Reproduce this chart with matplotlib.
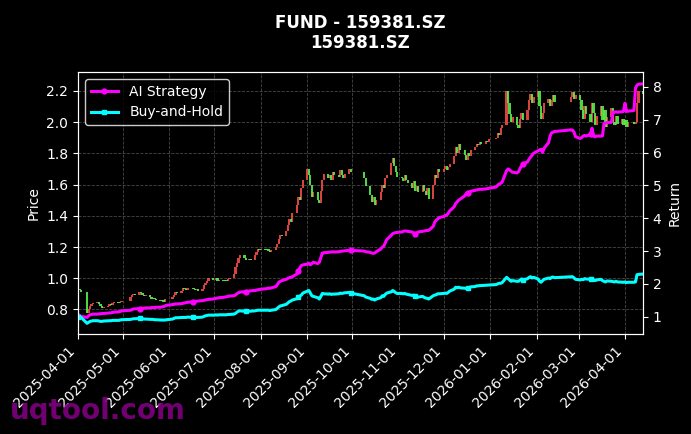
import matplotlib

matplotlib.use("Agg")
import matplotlib.dates as mdates
import matplotlib.pyplot as plt
import numpy as np
import pandas as pd

TICKER = "159381.SZ"
START, END = "2025-04-01", "2026-04-13"

# SSE/SZSE closures inside the window
HOLIDAYS = [
    "2025-04-04", "2025-05-01", "2025-05-02", "2025-05-05", "2025-06-02",
    "2025-10-01", "2025-10-02", "2025-10-03", "2025-10-06", "2025-10-07",
    "2025-10-08", "2026-01-01", "2026-01-02", "2026-02-16", "2026-02-17",
    "2026-02-18", "2026-02-19", "2026-02-20", "2026-02-23", "2026-04-06",
]

FIRST_OPEN = 0.94

# daily close, one line per month
CLOSE = [
    0.93, 0.925, 0.915, 0.78, 0.80, 0.82, 0.835, 0.84, 0.845, 0.835, 0.82,
    0.81, 0.815, 0.825, 0.835, 0.83, 0.84, 0.845, 0.84, 0.85, 0.855,
    0.88, 0.895, 0.90, 0.89, 0.91, 0.905, 0.895, 0.885, 0.89, 0.88, 0.87,
    0.875, 0.865, 0.86, 0.855, 0.86, 0.85, 0.865, 0.87,
    0.88, 0.895, 0.91, 0.905, 0.92, 0.935, 0.93, 0.925, 0.94, 0.935, 0.93,
    0.925, 0.93, 0.92, 0.93, 0.955, 0.97, 0.985, 1.0, 0.99,
    0.99, 1.0, 0.985, 0.99, 0.98, 0.99, 0.985, 0.995, 1.0, 1.03, 1.07, 1.10,
    1.13, 1.15, 1.13, 1.12, 1.115, 1.125, 1.12, 1.15, 1.17, 1.19, 1.18,
    1.19, 1.18, 1.185, 1.175, 1.17, 1.18, 1.2, 1.22, 1.25, 1.28, 1.27, 1.30,
    1.34, 1.38, 1.36, 1.42, 1.47, 1.52, 1.50, 1.58, 1.63,
    1.70, 1.66, 1.60, 1.52, 1.55, 1.50, 1.48, 1.56, 1.63, 1.67, 1.64, 1.66,
    1.63, 1.68, 1.66, 1.65, 1.69, 1.66, 1.64, 1.67, 1.70, 1.68,
    1.64, 1.59, 1.53, 1.49, 1.52, 1.47, 1.50, 1.55, 1.60, 1.58, 1.64, 1.66,
    1.74, 1.77, 1.72, 1.68, 1.65,
    1.64, 1.62, 1.66, 1.63, 1.61, 1.58, 1.62, 1.56, 1.59, 1.55, 1.60, 1.56,
    1.53, 1.58, 1.51, 1.60, 1.66, 1.64, 1.70, 1.68,
    1.70, 1.72, 1.69, 1.71, 1.73, 1.78, 1.84, 1.80, 1.86, 1.82, 1.79, 1.76,
    1.80, 1.78, 1.82, 1.84, 1.86, 1.85, 1.87, 1.86, 1.88, 1.87, 1.89,
    1.90, 1.93, 1.92, 1.96, 1.98, 2.20, 2.12, 2.05, 2.00, 2.03, 1.98, 1.96,
    2.02, 2.06, 2.01, 2.08, 2.14, 2.18, 2.12, 2.16,
    2.20, 2.10, 2.02, 2.06, 2.12, 2.15, 2.10, 2.14, 2.17, 2.13, 2.16, 2.19,
    2.15, 2.17,
    2.14, 2.08, 2.02, 2.10, 2.05, 2.00, 2.12, 2.06, 1.98, 2.04, 2.10, 2.01,
    2.08, 1.97, 2.03, 2.09, 2.00, 1.98, 2.04, 1.99, 2.02, 1.98,
    2.01, 1.97, 2.00, 1.99, 2.00, 2.12, 2.20, 2.18,
]

AI_STRATEGY = [
    1.03, 1.02, 1.01, 0.98, 1.03, 1.06, 1.07, 1.08, 1.08, 1.09, 1.09, 1.10,
    1.10, 1.11, 1.11, 1.12, 1.13, 1.14, 1.15, 1.16, 1.18,
    1.20, 1.22, 1.24, 1.24, 1.25, 1.25, 1.26, 1.26, 1.27, 1.27, 1.28, 1.28,
    1.28, 1.29, 1.29, 1.30, 1.31, 1.33, 1.35,
    1.37, 1.38, 1.39, 1.39, 1.40, 1.41, 1.42, 1.43, 1.44, 1.45, 1.45, 1.46,
    1.47, 1.48, 1.49, 1.50, 1.51, 1.52, 1.53, 1.54,
    1.55, 1.56, 1.57, 1.58, 1.59, 1.60, 1.61, 1.62, 1.63, 1.64, 1.66, 1.70,
    1.73, 1.75, 1.76, 1.76, 1.77, 1.78, 1.79, 1.80, 1.81, 1.82, 1.83,
    1.84, 1.85, 1.86, 1.87, 1.87, 1.88, 1.92, 1.98, 2.05, 2.08, 2.10, 2.14,
    2.17, 2.19, 2.20, 2.22, 2.30, 2.40, 2.48, 2.56, 2.58,
    2.60, 2.63, 2.58, 2.62, 2.66, 2.62, 2.66, 2.80, 2.94, 2.95, 2.96, 2.97,
    2.97, 2.98, 2.97, 2.98, 2.99, 3.00, 3.00, 3.01, 3.02, 3.02,
    3.00, 2.98, 2.96, 2.94, 2.93, 2.94, 2.98, 3.06, 3.12, 3.15, 3.25, 3.35,
    3.48, 3.53, 3.55, 3.56, 3.57,
    3.58, 3.60, 3.61, 3.61, 3.60, 3.58, 3.55, 3.52, 3.55, 3.58, 3.60, 3.61,
    3.62, 3.63, 3.63, 3.75, 3.88, 3.94, 3.98, 4.02,
    4.05, 4.08, 4.09, 4.15, 4.22, 4.35, 4.45, 4.50, 4.55, 4.58, 4.68, 4.75,
    4.78, 4.80, 4.82, 4.85, 4.86, 4.87, 4.88, 4.88, 4.89, 4.90, 4.91,
    4.95, 5.00, 5.04, 5.06, 5.10, 5.45, 5.50, 5.47, 5.43, 5.40, 5.38, 5.42,
    5.52, 5.60, 5.65, 5.72, 5.80, 5.86, 5.92, 5.98,
    6.05, 6.08, 6.10, 6.00, 6.13, 6.30, 6.50, 6.60, 6.62, 6.64, 6.69, 6.68,
    6.62, 6.48,
    6.43, 6.45, 6.50, 6.52, 6.50, 6.55, 6.74, 6.50, 6.48, 6.50, 6.50, 6.51,
    6.89, 6.90, 6.91, 6.92, 7.23, 7.23, 7.24, 7.23, 7.24, 7.25,
    7.50, 7.25, 7.26, 7.28, 7.96, 8.05, 8.08, 8.09,
]

BUY_HOLD = [
    1.00, 0.99, 0.98, 0.80, 0.83, 0.86, 0.87, 0.88, 0.88, 0.87, 0.86, 0.86,
    0.87, 0.88, 0.88, 0.88, 0.89, 0.89, 0.89, 0.90, 0.91,
    0.92, 0.93, 0.94, 0.94, 0.95, 0.94, 0.94, 0.93, 0.93, 0.92, 0.92, 0.92,
    0.91, 0.91, 0.90, 0.90, 0.90, 0.90, 0.91,
    0.93, 0.95, 0.97, 0.97, 0.98, 0.98, 0.98, 0.98, 0.99, 0.98, 0.98, 0.98,
    0.98, 0.98, 0.99, 1.01, 1.03, 1.04, 1.05, 1.05,
    1.05, 1.06, 1.05, 1.06, 1.06, 1.06, 1.06, 1.07, 1.07, 1.08, 1.10, 1.14,
    1.17, 1.18, 1.17, 1.17, 1.16, 1.17, 1.17, 1.18, 1.19, 1.20, 1.20,
    1.20, 1.20, 1.20, 1.20, 1.19, 1.20, 1.22, 1.26, 1.30, 1.33, 1.34, 1.38,
    1.42, 1.46, 1.48, 1.51, 1.55, 1.60, 1.63, 1.66, 1.72,
    1.78, 1.80, 1.72, 1.64, 1.62, 1.58, 1.54, 1.62, 1.71, 1.70, 1.69, 1.70,
    1.68, 1.69, 1.69, 1.70, 1.72, 1.71, 1.72, 1.73, 1.74, 1.72,
    1.64, 1.60, 1.56, 1.53, 1.54, 1.51, 1.54, 1.58, 1.64, 1.62, 1.68, 1.72,
    1.76, 1.80, 1.77, 1.73, 1.71,
    1.71, 1.70, 1.71, 1.69, 1.68, 1.65, 1.66, 1.64, 1.62, 1.60, 1.62, 1.59,
    1.57, 1.56, 1.54, 1.64, 1.66, 1.67, 1.70, 1.70,
    1.71, 1.72, 1.71, 1.74, 1.78, 1.84, 1.90, 1.88, 1.90, 1.88, 1.87, 1.86,
    1.88, 1.89, 1.91, 1.92, 1.94, 1.94, 1.95, 1.95, 1.96, 1.96, 1.97,
    1.98, 2.00, 2.02, 2.02, 2.04, 2.20, 2.16, 2.12, 2.08, 2.10, 2.08, 2.08,
    2.12, 2.15, 2.12, 2.16, 2.20, 2.22, 2.18, 2.20,
    2.15, 2.08, 2.05, 2.10, 2.14, 2.18, 2.16, 2.20, 2.21, 2.19, 2.22, 2.22,
    2.18, 2.14,
    2.12, 2.14, 2.13, 2.16, 2.15, 2.14, 2.15, 2.13, 2.10, 2.12, 2.14, 2.10,
    2.08, 2.06, 2.09, 2.08, 2.07, 2.06, 2.08, 2.06, 2.05, 2.05,
    2.06, 2.04, 2.05, 2.05, 2.06, 2.28, 2.29, 2.30,
]

UP, DOWN = "#f24b45", "#55f04a"


def main() -> None:
    days = pd.bdate_range(START, END)
    days = days[~days.isin(pd.to_datetime(HOLIDAYS))]
    close = np.array(CLOSE)
    assert len(days) == len(close) == len(AI_STRATEGY) == len(BUY_HOLD), \
        (len(days), len(close), len(AI_STRATEGY), len(BUY_HOLD))
    opn = np.r_[FIRST_OPEN, close[:-1]]
    up = close >= opn

    plt.style.use("dark_background")
    fig, ax = plt.subplots(figsize=(6.91, 4.34), dpi=100)
    fig.patch.set_facecolor("black")
    ax.set_facecolor("black")
    fig.subplots_adjust(left=0.113, right=0.9305, top=0.834, bottom=0.230)

    for mask, c in [(up, UP), (~up, DOWN)]:
        ax.bar(days[mask], (close - opn)[mask], bottom=opn[mask], width=1.5,
               color=c, alpha=0.9, linewidth=0)
    ax.set_ylim(0.642, 2.32)
    ax.set_ylabel("Price", fontsize=10)
    ax.grid(True, color="#777777", linestyle="--", linewidth=0.6, alpha=0.6)
    ax.set_axisbelow(True)

    ax2 = ax.twinx()
    ax2.plot(days, AI_STRATEGY, color="#ff00ff", lw=2.2, marker="o", ms=3.5,
             markevery=25, label="AI Strategy")
    ax2.plot(days, BUY_HOLD, color="#00ffff", lw=2.2, marker="s", ms=3.5,
             markevery=25, label="Buy-and-Hold")
    ax2.set_ylim(0.47, 8.45)
    ax2.set_ylabel("Return", fontsize=10)
    ax2.legend(loc="upper left", fontsize=10, facecolor="black",
               edgecolor="white", labelcolor="white")

    ax.set_xlim(days[0], days[-1])
    ax.xaxis.set_major_locator(mdates.MonthLocator(bymonthday=1))
    ax.xaxis.set_major_formatter(mdates.DateFormatter("%Y-%m-%d"))
    plt.setp(ax.get_xticklabels(), rotation=45, ha="right")
    for a in (ax, ax2):
        a.tick_params(labelsize=10, colors="white")
        for sp in a.spines.values():
            sp.set_color("white")

    ax.set_title(f"FUND - {TICKER}\n{TICKER}", fontsize=12,
                 fontweight="bold", color="white", pad=17)
    fig.text(0.014, 0.035, "uqtool.com", fontsize=20, fontweight="bold",
             color="#800080", alpha=0.9)

    fig.savefig("out.png", dpi=100, facecolor="black")
    plt.close(fig)


if __name__ == "__main__":
    main()
